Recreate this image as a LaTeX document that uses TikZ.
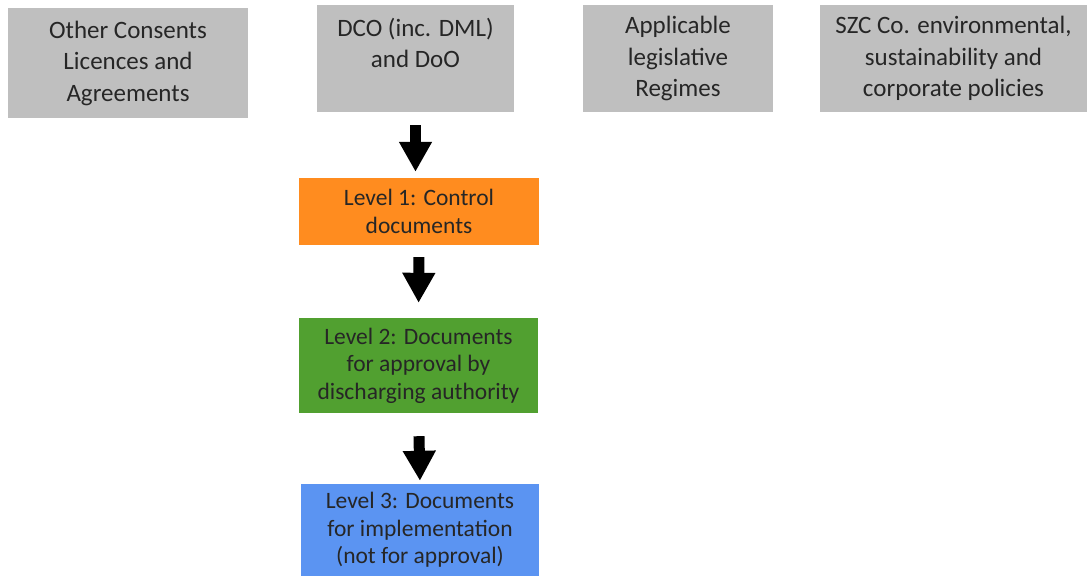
\documentclass[tikz,border=0pt]{standalone}
\usepackage{fontspec}
\setmainfont{Carlito}
\usetikzlibrary{arrows.meta, positioning}
\definecolor{boxgrey}{HTML}{BFBFBF}
\definecolor{lvlorange}{HTML}{FF8C1F}
\definecolor{lvlgreen}{HTML}{51A030}
\definecolor{lvlblue}{HTML}{5B94F2}
\tikzset{
    x=1pt, y=-1pt, % one unit is one pixel of the reference, y runs down
    source/.style={fill=boxgrey, inner sep=0pt, align=center, text=black!85,
        font=\fontsize{25}{31.5}\selectfont}, % grey boxes along the top
    level/.style={inner sep=0pt, align=center, text=black!85,
        font=\fontsize{23.5}{27.5}\selectfont}, % coloured level boxes
    flow/.style={line width=11pt, -{Triangle[width=31pt, length=30pt]}}, % thick block arrows
}
\begin{document}
\begin{tikzpicture}
            \useasboundingbox (0,0) rectangle (1092,576);

            \node[source, minimum width=240pt, minimum height=110pt] (other) at (128,63)
                {Other Consents\\Licences and\\Agreements};
            \node[source, minimum width=197pt, minimum height=107pt] (dco) at (415.5,58.5)
                {DCO (inc. DML)\\and DoO\\\mbox{}};
            \node[source, minimum width=190pt, minimum height=107pt] (regimes) at (678,58.5)
                {Applicable\\legislative\\Regimes};
            \node[source, minimum width=267pt, minimum height=107pt] (szc) at (953.5,58.5)
                {SZC Co. environmental,\\sustainability and\\corporate policies};

            \node[level, fill=lvlorange, minimum width=240pt, minimum height=67pt] (lvl1) at (419,211.5)
                {Level 1: Control\\documents};
            \node[level, fill=lvlgreen, minimum width=239pt, minimum height=95pt] (lvl2) at (418.5,365.5)
                {Level 2: Documents\\for approval by\\discharging authority};
            \node[level, fill=lvlblue, minimum width=238pt, minimum height=92pt] (lvl3) at (420,530)
                {Level 3: Documents\\for implementation\\(not for approval)};

            \draw[flow, shorten <=13pt, shorten >=6pt] (dco.south) -- (dco.south |- lvl1.north);
            \draw[flow, shorten <=12pt, shorten >=15pt] (lvl1.south) -- (lvl2.north);
            \draw[flow, shorten <=23pt, shorten >=3pt] (lvl2.south) -- (lvl3.north);
        \end{tikzpicture}
\end{document}
